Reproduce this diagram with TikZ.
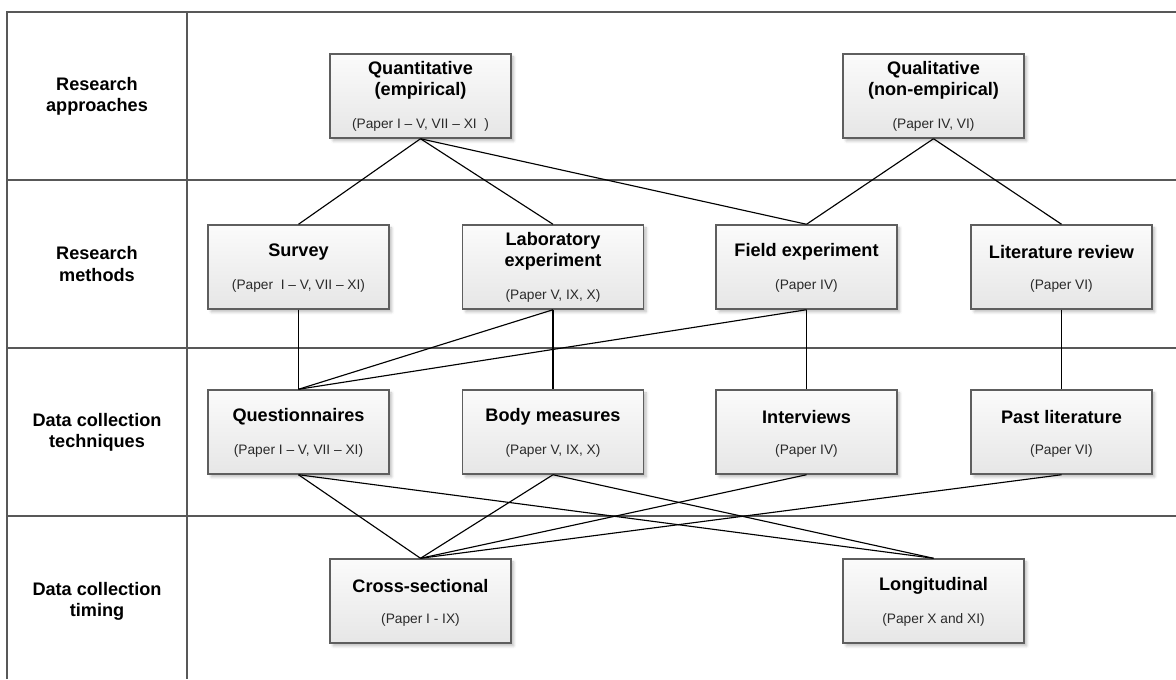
\documentclass[tikz,border=0pt]{standalone}
\usepackage{fontspec}
\setmainfont{Liberation Sans}
\usetikzlibrary{calc,shadows.blur}

\definecolor{gridline}{HTML}{585858}
\definecolor{boxedge}{HTML}{5E5E5E}
\definecolor{boxtop}{HTML}{FBFBFB}
\definecolor{boxbottom}{HTML}{E6E6E6}
\definecolor{subgray}{HTML}{2A2A2A}

\tikzset{
  boxnode/.style={rectangle, draw=boxedge, line width=1.1pt,
    top color=boxtop, bottom color=boxbottom,
    minimum width=135.5pt, minimum height=63pt, inner sep=0pt,
    blur shadow={shadow xshift=2.2pt, shadow yshift=-2.2pt,
      shadow blur radius=2pt, shadow opacity=25}},
  titletext/.style={inner sep=0pt, align=center,
    font=\fontsize{13.6}{15.8}\selectfont\bfseries},
  subtext/.style={inner sep=0pt, text=subgray,
    font=\fontsize{10.3}{12}\selectfont},
  rowlabel/.style={inner sep=0pt, align=center,
    font=\fontsize{13.6}{15.8}\selectfont\bfseries},
  gridrule/.style={draw=gridline, line width=1.1pt},
  conn/.style={draw=black, line width=0.85pt}
}

% box with a title and a paper reference; offsets in px from the box centre
\newcommand\paperbox[6]{%
  \node[boxnode] (#1) at #2 {};
  \node[titletext] (#1-t) at ($(#1.center)+(0,#5)$) {#3};
  \node[subtext] (#1-s) at ($(#1.center)+(0,#6)$) {#4};
}

\begin{document}
\begin{tikzpicture}[x=0.75pt,y=-0.75pt]
\useasboundingbox (0,0) rectangle (1176,679);

% table frame
\draw[gridrule] (7,679) -- (7,12) -- (1176,12);
\draw[gridrule] (187,12) -- (187,679);
\draw[gridrule] (7,180) -- (1176,180);
\draw[gridrule] (7,348) -- (1176,348);
\draw[gridrule] (7,516) -- (1176,516);

% row headings
\node[rowlabel] (row1) at (97,96)  {Research\\approaches};
\node[rowlabel] (row2) at (97,264) {Research\\methods};
\node[rowlabel] (row3) at (97,432) {Data collection\\techniques};
\node[rowlabel] (row4) at (97,601) {Data collection\\timing};

% research approaches
\paperbox{quant}{(420.5,96)}{Quantitative\\(empirical)}{(Paper I -- V, VII -- XI\ \ )}{-15.5}{29}
\paperbox{qual}{(933.5,96)}{Qualitative\\(non-empirical)}{(Paper IV, VI)}{-15.5}{29}

% research methods
\paperbox{survey}{(298.5,267)}{Survey}{(Paper\ \ I -- V, VII -- XI)}{-15}{19}
\paperbox{lab}{(553,267)}{Laboratory\\experiment}{(Paper V, IX, X)}{-15.5}{29}
\paperbox{field}{(806.5,267)}{Field experiment}{(Paper IV)}{-15}{19}
\paperbox{lit}{(1061.5,267)}{Literature review}{(Paper VI)}{-15}{19}

% data collection techniques
\paperbox{quest}{(298.5,432)}{Questionnaires}{(Paper I -- V, VII -- XI)}{-15}{19}
\paperbox{body}{(553,432)}{Body measures}{(Paper V, IX, X)}{-15}{19}
\paperbox{interv}{(806.5,432)}{Interviews}{(Paper IV)}{-15}{19}
\paperbox{past}{(1061.5,432)}{Past literature}{(Paper VI)}{-15}{19}

% data collection timing
\paperbox{cross}{(420.5,601)}{Cross-sectional}{(Paper I - IX)}{-15}{19}
\paperbox{long}{(933.5,601)}{Longitudinal}{(Paper X and XI)}{-15}{19}

% approaches to methods
\draw[conn] (quant.south) -- (survey.north);
\draw[conn] (quant.south) -- (lab.north);
\draw[conn] (quant.south) -- (field.north);
\draw[conn] (qual.south) -- (field.north);
\draw[conn] (qual.south) -- (lit.north);

% methods to techniques
\draw[conn] (survey.south) -- (quest.north);
\draw[conn] (lab.south) -- (quest.north);
\draw[conn] (lab.south) -- (body.north);
\draw[conn] (field.south) -- (quest.north);
\draw[conn] (field.south) -- (interv.north);
\draw[conn] (lit.south) -- (past.north);

% techniques to timing
\draw[conn] (quest.south) -- (cross.north);
\draw[conn] (quest.south) -- (long.north);
\draw[conn] (body.south) -- (cross.north);
\draw[conn] (body.south) -- (long.north);
\draw[conn] (interv.south) -- (cross.north);
\draw[conn] (past.south) -- (cross.north);
\end{tikzpicture}
\end{document}
